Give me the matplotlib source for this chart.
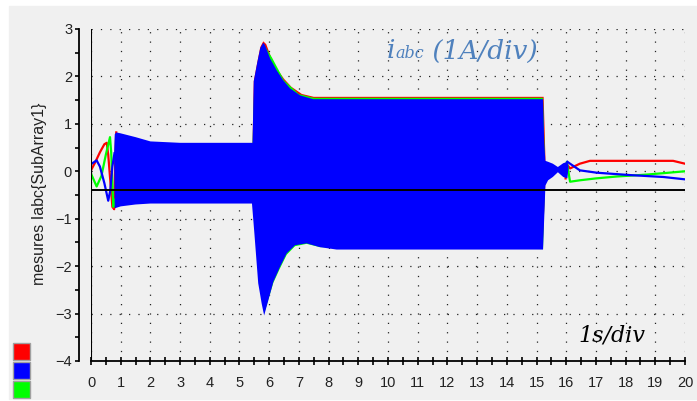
import matplotlib
matplotlib.use("Agg")
import matplotlib.pyplot as plt
from matplotlib.patches import Rectangle
from matplotlib.offsetbox import TextArea, HPacker, AnnotationBbox
from matplotlib.ticker import MultipleLocator

W, H = 697, 401
BG = "#f0f0f0"

# --- start-up transients (before the fast oscillation starts) ---
t_red0 = [0.0, 0.15, 0.30, 0.45, 0.53, 0.58, 0.65, 0.72, 0.78, 0.82, 0.85]
v_red0 = [0.02, 0.20, 0.40, 0.57, 0.60, 0.35, -0.20, -0.75, -0.80, 0.30, 0.82]
t_blue0 = [0.0, 0.19, 0.30, 0.45, 0.58, 0.65, 0.72, 0.79]
v_blue0 = [0.15, 0.23, 0.10, -0.25, -0.62, -0.40, 0.10, 0.38]
t_green0 = [0.0, 0.19, 0.35, 0.50, 0.64, 0.68, 0.75, 0.80]
v_green0 = [-0.05, -0.32, -0.10, 0.35, 0.72, 0.40, -0.75, -0.60]

# --- envelope of the fast oscillation, blue phase ---
t_blue_up = [0.78, 0.80, 0.85, 1.0, 1.5, 2.0, 3.0, 5.0, 5.44, 5.48, 5.60, 5.70,
             5.80, 5.86, 6.03, 6.25, 6.47, 6.70, 7.04, 7.48, 10.0, 15.22, 15.26,
             15.30, 15.39, 15.55, 15.72, 15.90, 16.04, 16.08]
v_blue_up = [0.40, 0.78, 0.82, 0.80, 0.72, 0.63, 0.60, 0.60, 0.60, 1.90, 2.30, 2.60,
             2.71, 2.66, 2.38, 2.13, 1.92, 1.75, 1.60, 1.52, 1.52, 1.52, 0.60,
             0.22, 0.20, 0.16, 0.09, 0.17, 0.20, 0.10]
t_blue_lo = [0.78, 0.80, 0.90, 1.0, 1.5, 2.0, 5.0, 5.42, 5.50, 5.63, 5.75, 5.83,
             5.97, 6.14, 6.36, 6.59, 6.87, 7.26, 7.71, 8.27, 15.22, 15.30, 15.39,
             15.55, 15.72, 15.90, 16.04, 16.08]
v_blue_lo = [0.30, -0.78, -0.76, -0.74, -0.70, -0.68, -0.68, -0.68, -1.30, -2.36, -2.80, -3.04,
             -2.72, -2.33, -2.02, -1.73, -1.56, -1.52, -1.60, -1.65, -1.65, -0.30, -0.19,
             -0.12, -0.02, -0.12, -0.15, 0.10]

# red phase envelope (only its top edge shows above the blue one)
t_red_up = [5.44, 5.48, 5.60, 5.70, 5.80, 5.90, 6.05, 6.25, 6.50, 6.75, 7.10, 7.50, 15.24, 15.30]
v_red_up = [0.60, 1.90, 2.30, 2.62, 2.74, 2.68, 2.43, 2.17, 1.95, 1.78, 1.63, 1.57, 1.57, 0.30]
t_red_lo = [15.30, 15.22, 7.70, 6.50, 5.83, 5.44]
v_red_lo = [-0.20, -1.40, -1.40, -1.50, -2.60, -0.50]

# green phase envelope
t_green_up = [5.44, 5.50, 5.80, 6.10, 6.50, 7.00, 7.50, 15.22, 15.28]
v_green_up = [0.60, 1.90, 2.70, 2.39, 1.92, 1.63, 1.55, 1.55, 0.30]
t_green_lo = [15.28, 15.22, 7.71, 7.26, 6.87, 6.59, 6.36, 6.14, 5.83, 5.44]
v_green_lo = [-0.30, -1.64, -1.60, -1.53, -1.58, -1.76, -2.05, -2.35, -3.00, -0.60]

# --- after the fault clears ---
t_red1 = [15.98, 16.02, 16.13, 16.46, 16.80, 19.60, 20.0]
v_red1 = [-0.15, 0.15, 0.06, 0.16, 0.22, 0.22, 0.16]
t_green1 = [15.98, 16.02, 16.13, 16.46, 17.0, 17.7, 18.7, 19.27, 20.0]
v_green1 = [0.00, 0.20, -0.22, -0.19, -0.15, -0.11, -0.07, -0.04, 0.0]
t_blue1 = [16.04, 16.13, 16.46, 17.03, 18.15, 19.27, 20.0]
v_blue1 = [0.20, 0.16, 0.02, -0.03, -0.08, -0.12, -0.17]

ref_level = -0.4
xticks = list(range(0, 21))
yticks = list(range(-4, 4))

fig = plt.figure(figsize=(W / 100, H / 100), dpi=100, facecolor="white")
fig.patches.append(Rectangle((9 / W, 2 / H), 1 - 9 / W, 1 - 8 / H,
                             transform=fig.transFigure, color=BG, zorder=-10))

ax = fig.add_axes([91 / W, 1 - 361 / H, (685 - 91) / W, (361 - 29) / H])
ax.set_facecolor(BG)
ax.set_xlim(0, 20)
ax.set_ylim(-4, 3)

# envelopes as polygons
ax.fill(t_red_up + t_red_lo, v_red_up + v_red_lo, color="#ff0000", lw=0, zorder=2)
ax.fill(t_green_up + t_green_lo, v_green_up + v_green_lo, color="#00ff00", lw=0, zorder=3)
ax.fill(t_blue_up + t_blue_lo[::-1], v_blue_up + v_blue_lo[::-1],
        color="#0000ff", lw=0, zorder=4)

lw = 1.6
ax.plot(t_red0, v_red0, color="#ff0000", lw=lw, zorder=3)
ax.plot(t_green0, v_green0, color="#00ff00", lw=lw, zorder=3.5)
ax.plot(t_blue0, v_blue0, color="#0000ff", lw=lw, zorder=4)
ax.plot(t_red1, v_red1, color="#ff0000", lw=lw, zorder=3)
ax.plot(t_green1, v_green1, color="#00ff00", lw=lw, zorder=3.5)
ax.plot(t_blue1, v_blue1, color="#0000ff", lw=lw, zorder=4)

ax.axhline(ref_level, color="black", lw=1.4, zorder=6)
ax.axvline(0, color="black", lw=1.5, zorder=6)

# axes styling
for s in ["top", "right"]:
    ax.spines[s].set_visible(False)
ax.spines["left"].set_position(("outward", 8.6))
ax.spines["left"].set_linewidth(1.3)
ax.spines["bottom"].set_linewidth(1.3)
ax.spines["bottom"].set_zorder(7)

ax.set_xticks(xticks)
ax.set_yticks(yticks)
ax.xaxis.set_minor_locator(MultipleLocator(0.5))
ax.yaxis.set_minor_locator(MultipleLocator(0.5))
ax.tick_params(axis="x", which="both", direction="inout", length=6, width=1.2,
               pad=8, labelsize=10.5, labelcolor="#222222")
ax.tick_params(axis="y", which="both", direction="out", length=3, width=1.2,
               pad=2, labelsize=10.5, labelcolor="#222222")
for lab in ax.get_xticklabels() + ax.get_yticklabels():
    lab.set_family("Liberation Sans")

ax.grid(True, which="major", color="#222222", lw=0.9, ls=(0, (1, 6.5)))
ax.set_axisbelow(True)

fig.text(40 / W, 1 - 194 / H, "mesures Iabc{SubArray1}", rotation=90,
         ha="center", va="center", family="Liberation Sans", fontsize=11.5,
         color="#222222")

# annotations
blue_txt = "#4f81bd"
box = HPacker(children=[
    TextArea("i", textprops=dict(family="DejaVu Serif", style="italic", size=19, color=blue_txt)),
    TextArea("abc", textprops=dict(family="DejaVu Serif", style="italic", size=11.5, color=blue_txt)),
    TextArea(" (1A/div)", textprops=dict(family="DejaVu Serif", style="italic", size=19, color=blue_txt)),
], align="baseline", pad=0, sep=0)
ab = AnnotationBbox(box, (387 / W, 1 - 51 / H), xycoords="figure fraction",
                    box_alignment=(0, 0.5), frameon=False, zorder=8)
fig.add_artist(ab)

fig.text(578 / W, 1 - 342 / H, "1s/div", ha="left", va="baseline",
         family="DejaVu Serif", style="italic", fontsize=16, color="black")

# colour keys, bottom left
for y0, c in [(343, "#ff0000"), (362, "#0000ff"), (381, "#00ff00")]:
    fig.patches.append(Rectangle((13 / W, 1 - (y0 + 17) / H), 17 / W, 17 / H,
                                 transform=fig.transFigure, facecolor=c,
                                 edgecolor="#a0a0a0", lw=1.0))

fig.savefig("out.png", dpi=100, facecolor=fig.get_facecolor())
